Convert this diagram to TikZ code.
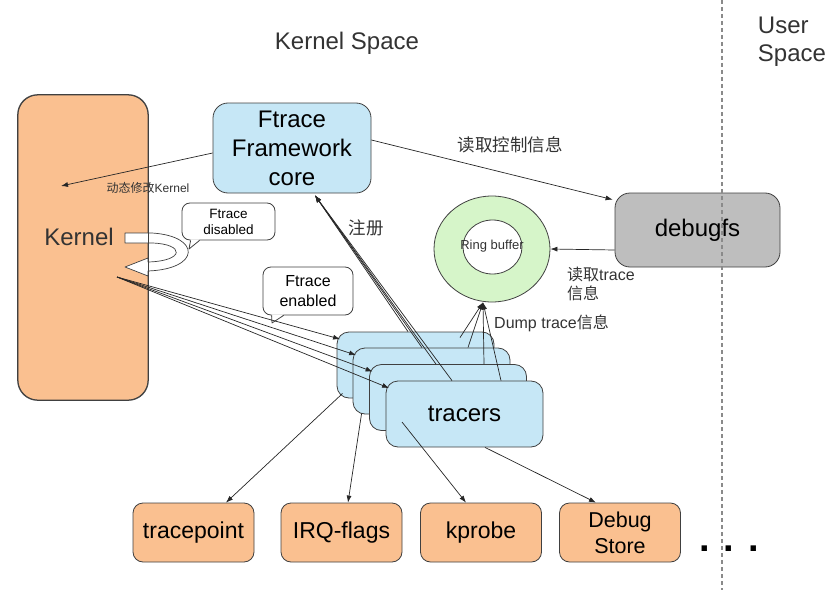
\documentclass[tikz,border=0pt]{standalone}
\usepackage{fontspec}
\setmainfont{Liberation Sans}
\newfontfamily\cjk{Noto Sans CJK SC}
\usetikzlibrary{arrows.meta,shapes.geometric}
\definecolor{korange}{HTML}{FAC090}
\definecolor{kblue}{HTML}{C6E7F6}
\definecolor{kgreen}{HTML}{D6F5C9}
\definecolor{kgray}{HTML}{BEBEBE}
\definecolor{edge}{HTML}{404040}
\definecolor{divider}{HTML}{8A8A8A}
\begin{document}
\begin{tikzpicture}[x=1pt,y=-1pt,
  box/.style={draw=edge, line width=0.8pt, rounded corners=#1, inner sep=0pt},
  box/.default=10pt,
  bigf/.style={font=\fontsize{24}{29}\selectfont},
  midf/.style={font=\fontsize{23}{26}\selectfont},
  arr/.style={draw=black!85, line width=0.7pt, -{Latex[length=7pt,width=5pt]}},
  plain/.style={draw=black!85, line width=0.7pt},
  lbl/.style={inner sep=0pt, text=black!80}
]
\useasboundingbox (0,0) rectangle (833,594);

% titles
\node[bigf, lbl] (kspace) at (347,43) {Kernel Space};
\node[font=\fontsize{24}{28}\selectfont, lbl, align=left] (uspace) at (792,42) {User\\Space};

% kernel
\node[box=20pt, fill=korange, minimum width=130pt, minimum height=305pt] (kernel) at (83,247.5) {};
\node[bigf, lbl] (kernellbl) at (79,237) {Kernel};

% loop (curved hollow arrow)
\draw[draw=edge, fill=white, line width=0.7pt, line join=round]
  (125,233) -- (152,233) .. controls (201,236) and (201,269) .. (148,271)
  -- (148,276) -- (125,267) -- (148,258) -- (148,262)
  .. controls (185,261) and (185,244) .. (152,243) -- (125,243) -- cycle;
\draw[draw=edge, line width=0.8pt, rounded corners=20pt] (kernel.south west) rectangle (kernel.north east);

% ftrace core
\node[box=15pt, fill=kblue, minimum width=158pt, minimum height=90pt, align=center, bigf] (ftrace) at (292,148) {Ftrace\\Framework\\core};

% debugfs
\node[box=15pt, fill=kgray, minimum width=165pt, minimum height=74pt, bigf] (debugfs) at (697.5,230) {debugfs};

% ring buffer
\node[ellipse, draw=edge, line width=0.8pt, fill=kgreen, minimum width=116pt, minimum height=106pt, inner sep=0pt] (ring) at (492,249) {};
\node[ellipse, draw=edge, line width=0.8pt, fill=white, minimum width=59pt, minimum height=54pt, inner sep=0pt] (hole) at (492.5,247) {};
\node[font=\fontsize{13}{15}\selectfont, lbl] (ringlbl) at (492,246) {Ring buffer};

% tracers stack
\node[box=12pt, fill=kblue, minimum width=157pt, minimum height=66pt] (tr1) at (415.5,365) {};
\node[box=12pt, fill=kblue, minimum width=157pt, minimum height=66pt] (tr2) at (431.5,381) {};
\node[box=12pt, fill=kblue, minimum width=157pt, minimum height=66pt] (tr3) at (448,397.5) {};
\node[box=12pt, fill=kblue, minimum width=157pt, minimum height=66pt, bigf] (tr4) at (464.5,414) {tracers};

% bottom boxes
\node[box=10pt, fill=korange, minimum width=121pt, minimum height=59pt, midf] (tp) at (193.5,532.5) {tracepoint};
\node[box=10pt, fill=korange, minimum width=121pt, minimum height=59pt, midf] (irq) at (341.5,532.5) {IRQ-flags};
\node[box=10pt, fill=korange, minimum width=121pt, minimum height=59pt, midf] (kp) at (481,532.5) {kprobe};
\node[box=10pt, fill=korange, minimum width=121pt, minimum height=59pt, align=center, font=\fontsize{21.5}{26}\selectfont] (ds) at (620,532.5) {Debug\\Store};
\node[font=\fontsize{38}{40}\selectfont\bfseries, inner sep=0pt, anchor=base] (dots) at (729,551) {. . .};

% callouts
\node[box=8pt, fill=white, minimum width=93pt, minimum height=37pt, align=center, font=\fontsize{13.5}{16}\selectfont] (cdis) at (228.5,221.5) {Ftrace\\disabled};
\coordinate (cdistip) at (189,249);
\fill[white] ([xshift=9pt,yshift=1pt]cdis.south west) -- (cdistip) -- ([xshift=18pt,yshift=1pt]cdis.south west) -- cycle;
\draw[draw=edge, line width=0.8pt, line join=round] ([xshift=9pt]cdis.south west) -- (cdistip) -- ([xshift=18pt]cdis.south west);

\node[box=8pt, fill=white, minimum width=90pt, minimum height=48pt, align=center, font=\fontsize{16}{20}\selectfont] (cen) at (308,291) {Ftrace\\enabled};
\coordinate (centip) at (272,323);
\fill[white] ([xshift=9pt,yshift=1pt]cen.south west) -- (centip) -- ([xshift=21pt,yshift=1pt]cen.south west) -- cycle;
\draw[draw=edge, line width=0.8pt, line join=round] ([xshift=9pt]cen.south west) -- (centip) -- ([xshift=21pt]cen.south west);

% ftrace -> kernel
\coordinate (kdyn) at (61,186);
\draw[arr] ([yshift=-5pt]ftrace.west) -- (kdyn);
\node[font=\fontsize{12}{14}\selectfont, lbl] (dynlbl) at (148,188) {{\cjk 动态修改}Kernel};

% ftrace -> debugfs
\draw[arr] ([yshift=8pt]ftrace.east) -- ([xshift=-2pt,yshift=-7pt]debugfs.north west);
\node[font=\fontsize{17.5}{20}\selectfont\cjk, lbl] (ctrllbl) at (510,145) {读取控制信息};

% debugfs -> ring
\draw[arr] ([yshift=-20pt]debugfs.west) -- (ring.east);
\node[font=\fontsize{16}{19}\selectfont, lbl, align=left, anchor=west] (rdlbl) at (567,284) {{\cjk 读取}trace\\{\cjk 信息}};

% kernel -> tracers fan
\coordinate (kfan) at (117,277);
\foreach \i in {1,...,4}{
  \draw[arr] (kfan) -- ([xshift=3.5pt,yshift=-7.5pt]tr\i.north west);
}

% tracers -> ftrace (register)
\coordinate (regtip) at ([xshift=23pt,yshift=-2pt]ftrace.south);
\foreach \i/\dx in {1/-7.5,2/-9.5,3/-12,4/-12.5}{
  \draw[arr] ([xshift=\dx pt]tr\i.north) -- (regtip);
}
\node[font=\fontsize{17.5}{20}\selectfont\cjk, lbl] (reglbl) at (366,228) {注册};

% tracers -> ring (dump)
\coordinate (dumptip) at ([xshift=-9pt]ring.south);
\draw[arr] ([xshift=44.5pt,yshift=-6pt]tr1.north) -- (dumptip);
\draw[arr] ([xshift=36.5pt]tr2.north) -- (dumptip);
\draw[arr] ([xshift=36pt]tr3.north) -- (dumptip);
\draw[arr] ([xshift=36.5pt]tr4.north) -- (dumptip);
\node[font=\fontsize{16}{19}\selectfont, lbl, anchor=west] (dumplbl) at (494,323) {Dump trace{\cjk 信息}};

% tracers -> bottom boxes
\draw[arr] ([xshift=6pt,yshift=5pt]tr1.south west) -- ([xshift=32.5pt]tp.north);
\draw[arr] ([xshift=9pt,yshift=1pt]tr2.south west) -- ([xshift=6.5pt]irq.north);
\draw[arr] ([xshift=-62.5pt,yshift=-8pt]tr4.center) -- ([xshift=-15pt]kp.north);
\draw[arr] ([xshift=20.5pt]tr4.south) -- ([xshift=-24pt]ds.north);

% divider
\coordinate (divtop) at (722,0);
\coordinate (divbot) at (722,590);
\draw[divider, line width=1.5pt, dash pattern=on 4pt off 3pt] (divtop) -- (divbot);
\end{tikzpicture}
\end{document}
